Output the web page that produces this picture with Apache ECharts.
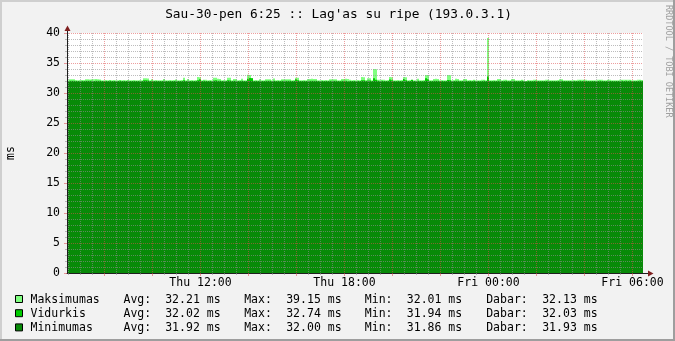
<!DOCTYPE html>
<html><head><meta charset="utf-8">
<script src="https://cdn.jsdelivr.net/npm/echarts@6/dist/echarts.min.js"></script>
<style>html,body{margin:0;padding:0;background:#f2f2f2}#c{width:675px;height:341px}</style>
</head><body><div id="c"></div>
<script>
const titleText = "Sau-30-pen 6:25 :: Lag'as su ripe (193.0.3.1)";
const yAxisName = 'ms';
const sideText = 'RRDTOOL / TOBI OETIKER';
const seriesNames = ['Maksimumas', 'Vidurkis', 'Minimumas'];
const seriesColors = ['#80ff80', '#00cc00', '#088a08'];
// time in hours since Thu 00:00; one sample every 5 minutes
const startHour = 6.4375;
const stepHours = 5 / 60;
const xLabelValues = [12, 18, 24, 30];
const xLabelTexts = ['Thu 12:00', 'Thu 18:00', 'Fri 00:00', 'Fri 06:00'];
const yMin = 0, yMax = 40, yStep = 5;

const maxVals = [
32.14,32.30,32.31,32.28,32.15,32.12,32.16,32.13,32.17,32.29,32.31,32.27,32.30,32.28,32.32,32.29,32.26,32.14,32.12,32.16,32.13,32.15,32.12,32.17,
32.14,32.13,32.18,32.12,32.15,32.14,32.16,32.12,32.13,32.17,32.14,32.12,32.15,32.13,32.44,32.46,32.43,32.14,32.29,32.13,32.16,32.12,32.14,32.13,
32.35,32.14,32.12,32.16,32.13,32.15,32.26,32.13,32.12,32.15,32.56,32.14,32.34,32.13,32.16,32.12,32.15,32.66,32.64,32.14,32.21,32.20,32.13,32.16,
32.12,32.55,32.54,32.36,32.34,32.13,32.15,32.12,32.56,32.54,32.14,32.35,32.34,32.13,32.15,32.36,32.12,32.14,33.05,33.02,32.48,32.13,32.15,32.12,
32.30,32.14,32.13,32.29,32.31,32.28,32.14,32.40,32.13,32.15,32.12,32.29,32.30,32.28,32.31,32.29,32.13,32.15,32.56,32.54,32.14,32.12,32.16,32.13,
32.35,32.34,32.36,32.35,32.33,32.14,32.12,32.16,32.13,32.15,32.12,32.30,32.29,32.31,32.28,32.14,32.12,32.35,32.34,32.36,32.33,32.21,32.13,32.15,
32.12,32.16,32.13,32.66,32.64,32.15,32.45,32.44,32.14,34.02,33.95,32.21,32.20,32.22,32.19,32.13,32.15,32.65,32.63,32.14,32.12,32.16,32.13,32.15,
32.66,32.64,32.13,32.15,32.12,32.14,32.13,32.36,32.14,32.12,32.16,33.02,32.98,32.14,32.12,32.35,32.36,32.34,32.13,32.15,32.12,32.14,33.01,32.97,
32.13,32.15,32.36,32.34,32.12,32.14,32.35,32.34,32.13,32.15,32.12,32.21,32.14,32.13,32.12,32.20,32.21,32.14,39.15,32.13,32.12,32.15,32.13,32.35,
32.34,32.13,32.20,32.21,32.12,32.14,32.35,32.34,32.13,32.12,32.14,32.21,32.13,32.01,32.15,32.13,32.12,32.20,32.21,32.13,32.12,32.14,32.13,32.20,
32.21,32.12,32.14,32.13,32.12,32.15,32.30,32.29,32.13,32.12,32.14,32.13,32.12,32.15,32.13,32.20,32.21,32.19,32.22,32.20,32.13,32.12,32.14,32.13,
32.12,32.20,32.21,32.19,32.13,32.12,32.21,32.20,32.13,32.12,32.14,32.13,32.20,32.21,32.19,32.22,32.20,32.21,32.13,32.12,32.14,32.20,32.21,32.13
];
const avgVals = [
32.02,32.04,32.03,32.05,32.01,32.02,32.00,32.03,32.01,32.04,32.05,32.03,32.04,32.02,32.05,32.03,32.04,32.01,32.00,32.02,32.01,32.03,32.00,32.02,
32.01,32.02,32.03,32.00,32.02,32.01,32.03,32.00,32.01,32.02,32.01,32.00,32.02,32.01,32.12,32.14,32.10,32.01,32.05,32.00,32.02,32.01,32.02,32.00,
32.06,32.01,32.00,32.02,32.01,32.02,32.04,32.01,32.00,32.02,32.12,32.01,32.06,32.00,32.02,32.01,32.02,32.14,32.30,32.01,32.03,32.02,32.00,32.02,
32.01,32.10,32.12,32.05,32.06,32.01,32.02,32.00,32.12,32.10,32.01,32.06,32.05,32.00,32.02,32.06,32.01,32.02,32.38,32.50,32.45,32.01,32.02,32.00,
32.04,32.01,32.00,32.04,32.05,32.03,32.01,32.06,32.00,32.02,32.01,32.04,32.05,32.03,32.04,32.03,32.00,32.02,32.30,32.12,32.01,32.00,32.02,32.01,
32.05,32.06,32.05,32.04,32.05,32.01,31.99,32.02,32.00,32.01,32.00,32.04,32.03,32.05,32.03,32.01,31.99,32.05,32.06,32.04,31.94,32.02,32.00,32.01,
31.99,32.02,32.00,32.14,32.12,32.01,32.10,32.08,32.01,32.45,32.20,32.03,32.02,32.03,32.02,32.00,32.01,32.25,32.12,32.01,31.99,32.02,32.00,32.01,
32.35,32.14,32.00,32.02,32.20,32.01,32.00,32.05,32.01,31.99,32.02,32.45,32.30,32.01,32.00,32.05,32.06,32.04,32.00,32.01,31.99,32.01,32.16,32.12,
32.00,32.01,32.05,32.04,31.99,32.01,32.05,32.04,32.00,32.01,31.99,32.03,32.01,32.00,31.99,32.02,32.03,32.01,32.74,32.02,31.99,32.01,32.00,32.05,
32.04,32.00,32.02,32.03,31.99,32.01,32.05,32.04,32.00,31.99,32.01,32.03,32.00,31.97,32.01,32.00,31.99,32.02,32.03,32.00,31.99,32.01,32.00,32.02,
32.03,31.99,32.01,32.00,31.99,32.01,32.04,32.03,32.00,31.99,32.01,32.00,31.99,32.01,32.00,32.02,32.03,32.02,32.03,32.02,32.00,31.99,32.01,32.00,
31.99,32.02,32.03,32.02,32.00,31.99,32.03,32.02,32.00,31.99,32.01,32.00,32.02,32.03,32.02,32.03,32.02,32.03,32.00,31.99,32.01,32.02,32.03,32.03
];
const minVals = [
31.92,31.93,31.94,31.92,31.91,31.93,31.90,31.92,31.91,31.94,31.95,31.93,31.94,31.92,31.95,31.93,31.94,31.91,31.90,31.92,31.91,31.93,31.90,31.92,
31.91,31.92,31.93,31.90,31.92,31.91,31.93,31.90,31.91,31.92,31.91,31.90,31.92,31.91,31.95,31.96,31.94,31.91,31.93,31.90,31.92,31.91,31.92,31.90,
31.94,31.91,31.90,31.92,31.91,31.92,31.93,31.91,31.90,31.92,31.95,31.91,31.94,31.90,31.92,31.91,31.92,31.96,31.97,31.91,31.93,31.92,31.90,31.92,
31.91,31.95,31.96,31.93,31.94,31.91,31.92,31.90,31.96,31.95,31.91,31.94,31.93,31.90,31.92,31.94,31.91,31.92,31.97,31.98,31.96,31.91,31.92,31.90,
31.93,31.91,31.90,31.93,31.94,31.92,31.91,31.94,31.90,31.92,31.91,31.93,31.94,31.92,31.93,31.92,31.90,31.92,31.96,31.95,31.91,31.90,31.92,31.91,
31.86,31.93,31.94,31.93,31.94,31.91,31.89,31.92,31.90,31.91,31.90,31.93,31.92,31.94,31.92,31.91,31.89,31.93,31.94,31.93,31.88,31.92,31.90,31.91,
31.89,31.92,31.90,31.96,31.95,31.91,31.94,31.93,31.91,31.98,31.95,31.92,31.91,31.92,31.91,31.90,31.91,31.96,31.94,31.91,31.89,31.92,31.90,31.91,
31.97,31.95,31.90,31.92,31.95,31.91,31.90,31.93,31.91,31.89,31.92,31.98,31.96,31.91,31.90,31.93,31.94,31.92,31.90,31.91,31.89,31.91,31.96,31.95,
31.90,31.91,31.93,31.92,31.89,31.91,31.93,31.92,31.90,31.91,31.89,31.92,31.91,31.90,31.89,31.92,31.93,31.91,32.00,31.92,31.89,31.91,31.90,31.93,
31.92,31.90,31.92,31.93,31.89,31.91,31.93,31.92,31.90,31.89,31.91,31.92,31.90,31.87,31.91,31.90,31.89,31.92,31.93,31.90,31.89,31.91,31.90,31.92,
31.93,31.89,31.91,31.90,31.89,31.91,31.93,31.92,31.90,31.89,31.91,31.90,31.89,31.91,31.90,31.92,31.93,31.92,31.93,31.92,31.90,31.89,31.91,31.90,
31.89,31.92,31.93,31.92,31.90,31.89,31.93,31.92,31.90,31.89,31.91,31.90,31.92,31.93,31.92,31.93,31.92,31.93,31.90,31.89,31.91,31.92,31.93,31.93
];
const statLabels = ['Avg:', 'Max:', 'Min:', 'Dabar:'];
const statValues = [
  ['32.21 ms', '39.15 ms', '32.01 ms', '32.13 ms'],
  ['32.02 ms', '32.74 ms', '31.94 ms', '32.03 ms'],
  ['31.92 ms', '32.00 ms', '31.86 ms', '31.93 ms']
];

const MONO = '"DejaVu Sans Mono", monospace';
const GRID_C = 'rgba(143,143,143,0.6)';
const MGRID_C = 'rgba(222,79,79,0.55)';
const AXIS_C = '#1f1f1f';
const ARROW_C = '#7f1f1f';

const xMin = startHour;
const xMax = startHour + maxVals.length * stepHours;
const minorX = [], majorX = [];
for (let h = Math.ceil(xMin * 2) / 2; h <= xMax; h += 0.5) {
  if (h % 2 === 0) majorX.push(h); else minorX.push(h);
}
const toPts = vals => vals.map((v, i) => [startHour + (i + 0.5) * stepHours, v]);

const chart = echarts.init(document.getElementById('c'), null, {renderer: 'canvas', width: 675, height: 341});

const graphics = [];
graphics.push({type: 'rect', shape: {x: 0, y: 0, width: 675, height: 2}, style: {fill: '#cfcfcf'}, silent: true});
graphics.push({type: 'rect', shape: {x: 0, y: 0, width: 2, height: 341}, style: {fill: '#cfcfcf'}, silent: true});
graphics.push({type: 'rect', shape: {x: 0, y: 339, width: 675, height: 2}, style: {fill: '#9e9e9e'}, silent: true});
graphics.push({type: 'rect', shape: {x: 673, y: 0, width: 2, height: 341}, style: {fill: '#9e9e9e'}, silent: true});
graphics.push({type: 'text', x: 338.5, y: 14.5, silent: true,
  style: {text: titleText, font: '12.8px ' + MONO, fill: '#000', align: 'center', verticalAlign: 'middle'}});
graphics.push({type: 'text', x: 668, y: 5, rotation: -Math.PI / 2, silent: true,
  style: {text: sideText, font: '8.5px ' + MONO, fill: '#a0a0a0', align: 'left', verticalAlign: 'middle'}});
graphics.push({type: 'line', z: 50, shape: {x1: 67.5, y1: 33, x2: 67.5, y2: 29}, style: {stroke: AXIS_C, lineWidth: 1}, silent: true});
graphics.push({type: 'polygon', z: 50, shape: {points: [[67.5, 25.5], [64.5, 31], [70.5, 31]]}, style: {fill: ARROW_C}, silent: true});
graphics.push({type: 'line', z: 50, shape: {x1: 643, y1: 273.5, x2: 648, y2: 273.5}, style: {stroke: AXIS_C, lineWidth: 1}, silent: true});
graphics.push({type: 'polygon', z: 50, shape: {points: [[653.5, 273.5], [648, 270.5], [648, 276.5]]}, style: {fill: ARROW_C}, silent: true});
const rowMid = [300, 314.2, 328.4];
const colX = [123.5, 165.2, 244.2, 286.2, 364.8, 406.8, 486.2, 542.2];
seriesNames.forEach((name, r) => {
  graphics.push({type: 'rect', shape: {x: 15.5, y: rowMid[r] - 4.5, width: 7, height: 7},
    style: {fill: seriesColors[r], stroke: '#000', lineWidth: 1}, silent: true});
  graphics.push({type: 'text', x: 30.5, y: rowMid[r], silent: true,
    style: {text: name, font: '11.5px ' + MONO, fill: '#000', verticalAlign: 'middle'}});
  statLabels.forEach((lab, c) => {
    graphics.push({type: 'text', x: colX[c * 2], y: rowMid[r], silent: true,
      style: {text: lab, font: '11.5px ' + MONO, fill: '#000', verticalAlign: 'middle'}});
    graphics.push({type: 'text', x: colX[c * 2 + 1], y: rowMid[r], silent: true,
      style: {text: statValues[r][c], font: '11.5px ' + MONO, fill: '#000', verticalAlign: 'middle'}});
  });
});

const barSeries = [maxVals, avgVals, minVals].map((vals, k) => ({
  name: seriesNames[k], type: 'bar', xAxisIndex: 0, yAxisIndex: 0,
  data: toPts(vals), barWidth: 2, barGap: '-100%', silent: true,
  itemStyle: {color: seriesColors[k]}, z: 2
}));

chart.setOption({
  animation: false,
  backgroundColor: '#f2f2f2',
  grid: {left: 67, right: 32, top: 33, bottom: 68, show: true, backgroundColor: '#ffffff', borderWidth: 0,
         containLabel: false, outerBoundsMode: 'none'},
  xAxis: [
    {type: 'value', min: xMin, max: xMax, position: 'bottom', z: 5,
     axisLine: {show: true, lineStyle: {color: AXIS_C, width: 1}},
     axisTick: {show: true, customValues: minorX, length: 2, lineStyle: {color: GRID_C}},
     splitLine: {show: true, lineStyle: {color: GRID_C, width: 1, type: [1, 1]}},
     axisLabel: {show: true, customValues: xLabelValues, margin: 4,
       formatter: v => xLabelTexts[xLabelValues.indexOf(v)] || '',
       fontFamily: MONO, fontSize: 11.5, color: '#000'}},
    {type: 'value', min: xMin, max: xMax, position: 'bottom', z: 6,
     axisLine: {show: false},
     axisTick: {show: true, customValues: majorX, length: 3, lineStyle: {color: MGRID_C}},
     splitLine: {show: true, lineStyle: {color: MGRID_C, width: 1, type: [1, 1]}},
     axisLabel: {show: false}}
  ],
  yAxis: {type: 'value', min: yMin, max: yMax, interval: yStep, z: 5,
    name: yAxisName, nameLocation: 'middle', nameGap: 50, nameRotate: 90,
    nameTextStyle: {fontFamily: MONO, fontSize: 11.5, color: '#000'},
    axisLine: {show: true, lineStyle: {color: AXIS_C, width: 1}},
    axisTick: {show: true, length: 3, lineStyle: {color: MGRID_C}},
    minorTick: {show: true, splitNumber: 5, length: 2, lineStyle: {color: GRID_C}},
    splitLine: {show: true, lineStyle: {color: MGRID_C, width: 1, type: [1, 1]}},
    minorSplitLine: {show: true, lineStyle: {color: GRID_C, width: 1, type: [1, 1]}},
    axisLabel: {fontFamily: MONO, fontSize: 11.5, color: '#000', margin: 7}},
  tooltip: {show: false},
  graphic: graphics,
  series: barSeries
});
</script>
</body></html>
